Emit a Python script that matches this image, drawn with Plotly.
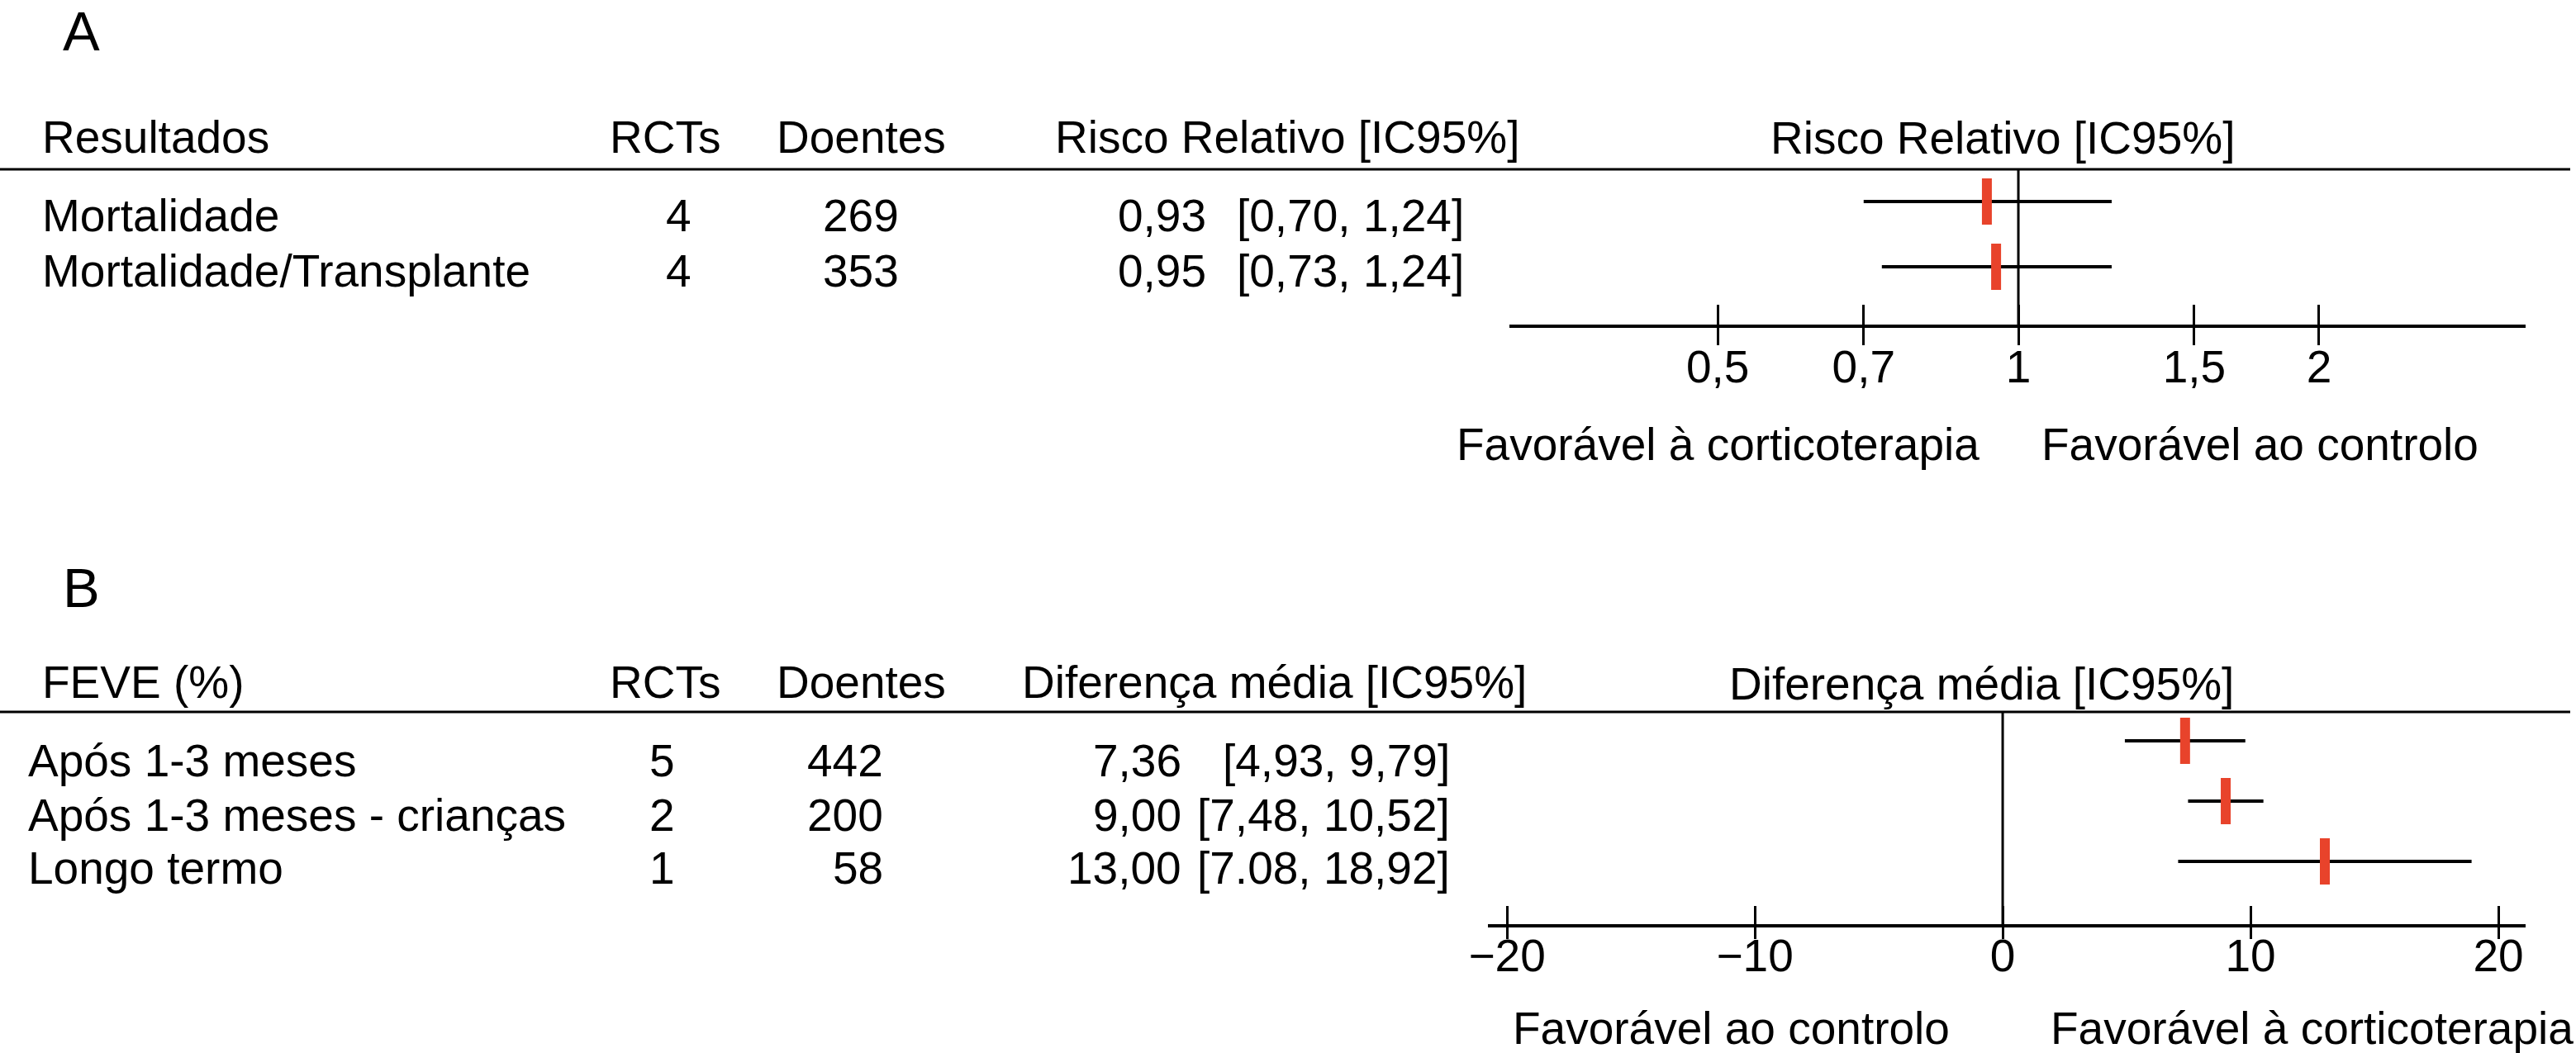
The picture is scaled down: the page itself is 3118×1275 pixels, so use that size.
import math
import plotly.graph_objects as go

W, H = 3118, 1275
FONT = "Liberation Sans, Arial, Helvetica, sans-serif"
RED = "#E8432B"
FS = 55

# ---------------- Panel A data ----------------
a_outcomes = ["Mortalidade", "Mortalidade/Transplante"]
a_rcts = ["4", "4"]
a_patients = ["269", "353"]
a_rr = [0.93, 0.95]
a_lo = [0.70, 0.73]
a_hi = [1.24, 1.24]
a_est_text = ["0,93", "0,95"]
a_ci_text = ["[0,70, 1,24]", "[0,73, 1,24]"]
a_ticks = [0.5, 0.7, 1, 1.5, 2]
a_ticktext = ["0,5", "0,7", "1", "1,5", "2"]

# ---------------- Panel B data ----------------
b_outcomes = ["Após 1-3 meses", "Após 1-3 meses - crianças", "Longo termo"]
b_rcts = ["5", "2", "1"]
b_patients = ["442", "200", "58"]
b_md = [7.36, 9.00, 13.00]
b_lo = [4.93, 7.48, 7.08]
b_hi = [9.79, 10.52, 18.92]
b_est_text = ["7,36", "9,00", "13,00"]
b_ci_text = ["[4,93, 9,79]", "[7,48, 10,52]", "[7.08, 18,92]"]
b_ticks = [-20, -10, 0, 10, 20]
b_ticktext = ["\u221220", "\u221210", "0", "10", "20"]

a_rows = [len(a_outcomes) - i for i in range(len(a_outcomes))]
b_rows = [len(b_outcomes) - i for i in range(len(b_outcomes))]


def px_x(p):
    return p / W


def px_y(p):
    return 1 - p / H


fig = go.Figure()


def add_forest(est, lo, hi, rows, xa, ya):
    xs, ys = [], []
    for l, h, r in zip(lo, hi, rows):
        xs += [l, h, None]
        ys += [r, r, None]
    fig.add_trace(go.Scatter(x=xs, y=ys, mode="lines", xaxis=xa, yaxis=ya,
                             line=dict(color="black", width=4), hoverinfo="skip"))
    fig.add_trace(go.Scatter(x=est, y=rows, mode="markers", xaxis=xa, yaxis=ya,
                             marker=dict(symbol="line-ns", size=40,
                                         line=dict(width=12, color=RED))))


add_forest(a_rr, a_lo, a_hi, a_rows, "x", "y")
add_forest(b_md, b_lo, b_hi, b_rows, "x2", "y2")
# invisible traces so the overlay tick axes are rendered
fig.add_trace(go.Scatter(x=[1], y=[1], xaxis="x3", yaxis="y", mode="markers",
                         marker=dict(opacity=0), hoverinfo="skip"))
fig.add_trace(go.Scatter(x=[0], y=[1], xaxis="x4", yaxis="y2", mode="markers",
                         marker=dict(opacity=0), hoverinfo="skip"))

# layout geometry (pixels)
a_dom = [px_x(1827), px_x(3057)]
b_dom = [px_x(1801), px_x(3057)]
a_range = [-0.5096, 0.5079]
b_range = [-20.77, 21.10]

axis_common = dict(showgrid=False, zeroline=False, tickcolor="black", tickwidth=3,
                   automargin=False,
                   tickfont=dict(family=FONT, size=FS, color="black"))
overlay_common = dict(showticklabels=False, showline=False, showgrid=False,
                      zeroline=False, tickcolor="black", tickwidth=3,
                      automargin=False, ticks="outside")

fig.update_layout(
    width=W, height=H, margin=dict(l=0, r=0, t=0, b=0, pad=0, autoexpand=False),
    paper_bgcolor="white", plot_bgcolor="white", showlegend=False,
    font=dict(family=FONT, size=FS, color="black"),
    xaxis=dict(type="log", domain=a_dom, range=a_range, anchor="y",
               tickvals=a_ticks, ticktext=a_ticktext, ticks="inside", ticklen=24,
               showline=True, linewidth=4, linecolor="black", ticklabelstandoff=0,
               **axis_common),
    xaxis3=dict(type="log", overlaying="x", range=a_range, anchor="y",
                tickvals=a_ticks, ticklen=24, **overlay_common),
    yaxis=dict(domain=[px_y(393), px_y(205)], range=[0.114, 2.494], visible=False,
               automargin=False),
    xaxis2=dict(domain=b_dom, range=b_range, anchor="y2",
                tickvals=b_ticks, ticktext=b_ticktext, ticks="inside", ticklen=22,
                showline=True, linewidth=4, linecolor="black", ticklabelstandoff=-13,
                **axis_common),
    xaxis4=dict(overlaying="x2", range=b_range, anchor="y2",
                tickvals=b_ticks, ticklen=17, **overlay_common),
    yaxis2=dict(domain=[px_y(1119), px_y(862)], range=[-0.041, 3.479], visible=False,
                automargin=False),
)

shapes = [
    # header rules
    dict(type="line", xref="paper", yref="paper", x0=0, x1=px_x(3111),
         y0=px_y(205), y1=px_y(205), line=dict(color="black", width=3)),
    dict(type="line", xref="paper", yref="paper", x0=0, x1=px_x(3111),
         y0=px_y(862), y1=px_y(862), line=dict(color="black", width=3)),
    # reference lines
    dict(type="line", xref="x", yref="y domain", x0=1, x1=1, y0=0, y1=1,
         line=dict(color="black", width=3)),
    dict(type="line", xref="x2", yref="y2 domain", x0=0, x1=0, y0=0, y1=1,
         line=dict(color="black", width=3)),
]
fig.update_layout(shapes=shapes)

anns = []


def ann(text, x, y, anchor="left", size=FS):
    anns.append(dict(text=text, x=px_x(x), y=px_y(y), xref="paper", yref="paper",
                     xanchor=anchor, yanchor="middle", showarrow=False,
                     borderpad=0, borderwidth=0,
                     font=dict(family=FONT, size=size, color="black")))


# Panel A
ann("A", 76, 38, "left", 67)
ann("Resultados", 51, 166)
ann("RCTs", 805, 166, "center")
ann("Doentes", 1042, 166, "center")
ann("Risco Relativo [IC95%]", 1839, 166, "right")
ann("Risco Relativo [IC95%]", 2424, 167, "center")
a_text_y = [261, 328]
for i, ty in enumerate(a_text_y):
    ann(a_outcomes[i], 51, ty)
    ann(a_rcts[i], 821, ty, "center")
    ann(a_patients[i], 1042, ty, "center")
    ann(a_est_text[i], 1460, ty, "right")
    ann(a_ci_text[i], 1772, ty, "right")
ann("Favorável à corticoterapia", 2396, 538, "right")
ann("Favorável ao controlo", 2471, 538, "left")

# Panel B
ann("B", 76, 711, "left", 67)
ann("FEVE (%)", 51, 826)
ann("RCTs", 805, 826, "center")
ann("Doentes", 1042, 826, "center")
ann("Diferença média [IC95%]", 1848, 826, "right")
ann("Diferença média [IC95%]", 2398, 828, "center")
b_text_y = [921, 987, 1051]
for i, ty in enumerate(b_text_y):
    ann(b_outcomes[i], 34, ty)
    ann(b_rcts[i], 802, ty, "center")
    ann(b_patients[i], 1069, ty, "right")
    ann(b_est_text[i], 1430, ty, "right")
    ann(b_ci_text[i], 1755, ty, "right")
ann("Favorável ao controlo", 1831, 1245, "left")
ann("Favorável à corticoterapia", 2482, 1245, "left")

fig.update_layout(annotations=anns)

fig.write_html("out.html", config={"displayModeBar": False},
               post_script="document.body.style.margin='0';document.body.style.overflow='hidden';")
